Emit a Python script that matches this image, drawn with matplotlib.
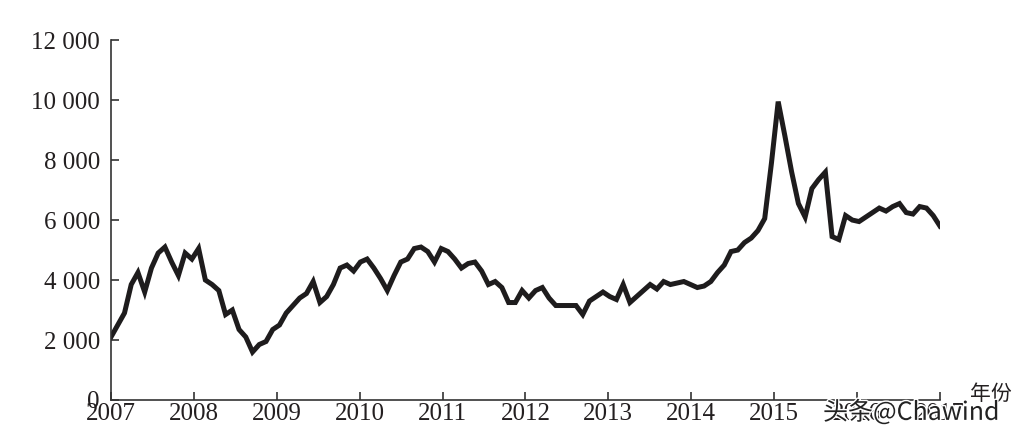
import matplotlib.pyplot as plt
import matplotlib.patheffects as pe
import numpy as np

# monthly series, 2007 .. end of 2016
values = [
    2100, 2500, 2900, 3850, 4250, 3600, 4400, 4900, 5100, 4600, 4150, 4900,
    4700, 5050, 4000, 3850, 3650, 2850, 3000, 2350, 2100, 1600, 1850, 1950,
    2350, 2500, 2900, 3150, 3400, 3550, 3950, 3250, 3450, 3850, 4400, 4500,
    4300, 4600, 4700, 4400, 4050, 3650, 4150, 4600, 4700, 5050, 5100, 4950,
    4600, 5050, 4950, 4700, 4400, 4550, 4600, 4300, 3850, 3950, 3750, 3250,
    3250, 3650, 3400, 3650, 3750, 3400, 3150, 3150, 3150, 3150, 2850, 3300,
    3450, 3600, 3450, 3350, 3850, 3250, 3450, 3650, 3850, 3700, 3950, 3850,
    3900, 3950, 3850, 3750, 3800, 3950, 4250, 4500, 4950, 5000, 5250, 5400,
    5650, 6050, 7900, 9950, 8800, 7600, 6550, 6100, 7050, 7350, 7600, 5450,
    5350, 6150, 6000, 5950, 6100, 6250, 6400, 6300, 6450, 6550, 6250, 6200,
    6450, 6400, 6150, 5800,
]
year_ticks = [2007, 2008, 2009, 2010, 2011, 2012, 2013, 2014, 2015, 2016, 2017]
y_ticks = [0, 2000, 4000, 6000, 8000, 10000, 12000]
y_labels = ["0", "2 000", "4 000", "6 000", "8 000", "10 000", "12 000"]

x = np.linspace(year_ticks[0], year_ticks[-1], len(values))

fig = plt.figure(figsize=(10.25, 4.41), dpi=100)
ax = fig.add_axes([0.1083, 0.093, 0.8087, 0.816])

ax.plot(x, values, color="#1e1c1d", lw=3.6, solid_joinstyle="miter")

ax.set_xlim(year_ticks[0], year_ticks[-1])
ax.set_ylim(0, 12000)
ax.set_xticks(year_ticks)
ax.set_yticks(y_ticks, y_labels)

for side in ["top", "right"]:
    ax.spines[side].set_visible(False)
for side in ["left", "bottom"]:
    ax.spines[side].set_color("#333333")
    ax.spines[side].set_linewidth(1.2)

ax.tick_params(direction="in", length=6, width=1.2, color="#333333",
               labelsize=18, labelcolor="#231f20")
ax.tick_params(axis="y", pad=8)
ax.tick_params(axis="x", pad=2)
for lbl in ax.get_xticklabels() + ax.get_yticklabels():
    lbl.set_family("Liberation Serif")

fig.text(0.967, 0.106, "年份", ha="center", va="center", fontsize=15,
         family=["Noto Sans CJK SC", "DejaVu Sans"], color="#231f20")

wm = fig.text(0.889, 0.064, "头条@Chawind", ha="center", va="center",
              fontsize=18, family=["Noto Sans CJK SC", "DejaVu Sans"],
              color="#222222")
wm.set_path_effects([pe.withStroke(linewidth=2, foreground="white")])

fig.savefig("out.png", dpi=100)
